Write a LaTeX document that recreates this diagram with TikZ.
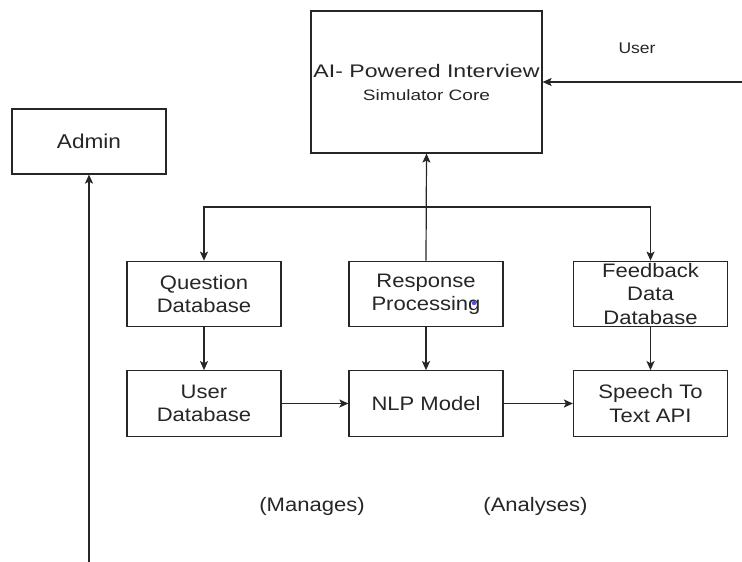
\documentclass[tikz,border=0pt]{standalone}
\usepackage{fontspec}
\setmainfont[FakeStretch=1.13]{Liberation Sans}
\newfontfamily\corefont[FakeStretch=1.27]{Liberation Sans}
\usetikzlibrary{arrows.meta}
\tikzset{
  box/.style={draw=black!85, line width=1.2pt, minimum width=154pt, minimum height=65.5pt,
    inner sep=0pt, align=center, text=black!85,
    font=\fontsize{19.5}{23.3}\selectfont},
  conn/.style={draw=black!85, line width=1.2pt},
  arr/.style={conn, -{Stealth[length=9pt,width=8pt,inset=2pt]}},
  lbl/.style={text=black!85, inner sep=0pt, font=\fontsize{19.5}{23}\selectfont}
}
\begin{document}
\begin{tikzpicture}[x=1pt,y=-1pt]
\useasboundingbox[fill=white] (0,0) rectangle (742,562);
% nodes
\node[box, minimum width=231pt, minimum height=142pt, font=\corefont\fontsize{18.2}{23}\selectfont] (core) at (426.5,82)
  {AI- Powered Interview\\\fontsize{15}{23}\selectfont Simulator Core};
\node[box, minimum height=65pt, font=\fontsize{20}{23}\selectfont] (admin) at (89,141.5) {Admin};
\node[box] (qdb) at (204,294) {Question\\Database};
\node[box] (resp) at (426,294) {Response\\Processing};
\node[box, font=\fontsize{19.5}{23.5}\selectfont] (fb) at (650.5,294) {Feedback\\Data\\Database};
\node[box] (udb) at (204,403.5) {User\\Database};
\node[box] (nlp) at (426,403.5) {NLP Model};
\node[box] (stt) at (650.5,403.5) {Speech To\\Text API};
\node[lbl, font=\fontsize{15.5}{18}\selectfont] (user) at (637,48) {User};
\node[lbl] (manages) at (312,506) {(Manages)};
\node[lbl] (analyses) at (535.5,506) {(Analyses)};
% blue cursor dot
\fill[blue!70] (474,303) circle (2.2pt);
% connectors
\coordinate (uin) at (742,82);
\coordinate (ain) at (89,562);
\coordinate (junc) at (426,207);
\draw[arr] (uin) -- (core.east);
\draw[arr] (ain) -- (admin.south);
\draw[arr] (resp.north) -- (core.south);
\draw[arr] (junc) -| (qdb.north);
\draw[arr] (junc) -| (fb.north);
\draw[arr] (qdb.south) -- (udb.north);
\draw[arr] (resp.south) -- (nlp.north);
\draw[arr] (fb.south) -- (stt.north);
\draw[arr] (udb.east) -- (nlp.west);
\draw[arr] (nlp.east) -- (stt.west);
\end{tikzpicture}
\end{document}
